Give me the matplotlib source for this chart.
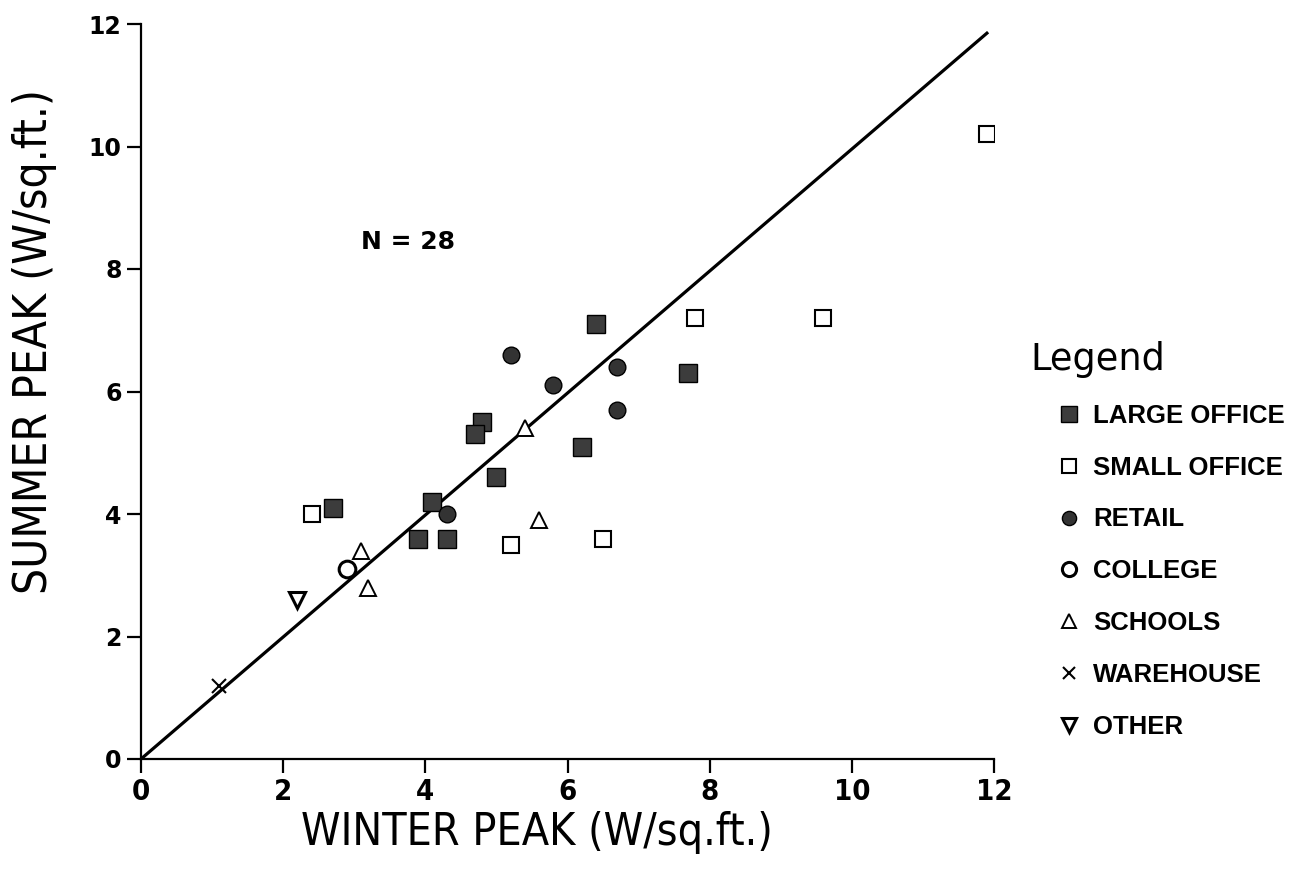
import matplotlib
matplotlib.use("Agg")
import matplotlib.pyplot as plt
from matplotlib import font_manager

# ---- data ----
large_office_x = [2.7, 6.4, 7.7, 4.8, 4.7, 6.2, 5.0, 4.1, 3.9, 4.3]
large_office_y = [4.1, 7.1, 6.3, 5.5, 5.3, 5.1, 4.6, 4.2, 3.6, 3.6]
small_office_x = [2.4, 7.8, 9.6, 11.9, 5.2, 6.5]
small_office_y = [4.0, 7.2, 7.2, 10.2, 3.5, 3.6]
retail_x = [5.2, 5.8, 6.7, 6.7, 4.3]
retail_y = [6.6, 6.1, 6.4, 5.7, 4.0]
college_x = [2.9]
college_y = [3.1]
schools_x = [3.1, 3.2, 5.4, 5.6]
schools_y = [3.4, 2.8, 5.4, 3.9]
warehouse_x = [1.1]
warehouse_y = [1.2]
other_x = [2.2]
other_y = [2.6]
fit_x = [0.0, 11.9]
fit_y = [0.0, 11.85]
ticks = [0, 2, 4, 6, 8, 10, 12]
n_label = "N = 28"

# is a condensed DejaVu face available?
has_cond = any("DejaVu" in f.name and "ondensed" in str(f.fname)
               for f in font_manager.fontManager.ttflist)
stretch = "condensed" if has_cond else "normal"

W, H = 1296, 869
fig = plt.figure(figsize=(W / 100, H / 100), dpi=100)
ax = fig.add_axes([141 / W, 1 - 759 / H, (994 - 141) / W, (759 - 24) / H])

ax.plot(fit_x, fit_y, color="black", lw=2.3, zorder=1)

ax.plot(large_office_x, large_office_y, ls="none", marker="s", ms=13,
        mfc="#3c3c3c", mec="black", mew=1.0, label="LARGE OFFICE", zorder=3)
ax.plot(small_office_x, small_office_y, ls="none", marker="s", ms=12,
        mfc="white", mec="black", mew=1.5, label="SMALL OFFICE", zorder=3)
ax.plot(retail_x, retail_y, ls="none", marker="o", ms=12,
        mfc="#333333", mec="black", mew=1.0, label="RETAIL", zorder=3)
ax.plot(college_x, college_y, ls="none", marker="o", ms=12,
        mfc="white", mec="black", mew=2.2, label="COLLEGE", zorder=3)
ax.plot(schools_x, schools_y, ls="none", marker="^", ms=12,
        mfc="white", mec="black", mew=1.4, label="SCHOOLS", zorder=3)
ax.plot(warehouse_x, warehouse_y, ls="none", marker="x", ms=10,
        mec="black", mew=1.5, label="WAREHOUSE", zorder=3)
ax.plot(other_x, other_y, ls="none", marker="v", ms=12,
        mfc="white", mec="black", mew=2.2, label="OTHER", zorder=3)

ax.set_xlim(0, 12)
ax.set_ylim(0, 12)
ax.set_xticks(ticks)
ax.set_yticks(ticks)
ax.spines["top"].set_visible(False)
ax.spines["right"].set_visible(False)
for s in ("left", "bottom"):
    ax.spines[s].set_linewidth(1.6)
ax.tick_params(direction="out", length=10, width=1.6, pad=4)
for lab in ax.get_yticklabels():
    lab.set_fontfamily(["DejaVu Sans"])
    lab.set_fontweight("bold")
    lab.set_fontsize(17)
for lab in ax.get_xticklabels():
    lab.set_fontfamily(["DejaVu Sans"])
    lab.set_fontweight("bold")
    lab.set_fontstretch(stretch)
    lab.set_fontsize(21 if has_cond else 18)

lab_size = 32 if has_cond else 29
ax.set_xlabel("WINTER PEAK (W/sq.ft.)", fontsize=lab_size,
              family=["DejaVu Sans"], fontstretch=stretch)
ax.xaxis.set_label_coords((537 - 141) / 853, (759 - 832) / 735)
ax.xaxis.label.set_va("center")
ax.set_ylabel("SUMMER PEAK (W/sq.ft.)", fontsize=lab_size + 1,
              family=["DejaVu Sans"], fontstretch=stretch)
ax.yaxis.set_label_coords((35 - 141) / 853, (759 - 342) / 735)
ax.yaxis.label.set_va("center")

ax.text(3.76, 8.44, n_label, ha="center", va="center", fontsize=18,
        fontweight="bold", family=["DejaVu Sans"])

fig.text(1030 / W, 1 - 360 / H, "Legend", fontsize=26.5, ha="left",
         va="center", family=["DejaVu Sans"])

fs = 18.5
leg = ax.legend(loc="upper left",
                bbox_to_anchor=(1056 / W, 1 - 404 / H),
                bbox_transform=fig.transFigure,
                frameon=False, borderpad=0, borderaxespad=0,
                handlelength=1.0, handletextpad=0.45,
                labelspacing=1.08, markerscale=0.85,
                prop={"family": ["Liberation Sans", "DejaVu Sans"],
                      "weight": "bold", "size": fs})

fig.savefig("out.png", dpi=100)
